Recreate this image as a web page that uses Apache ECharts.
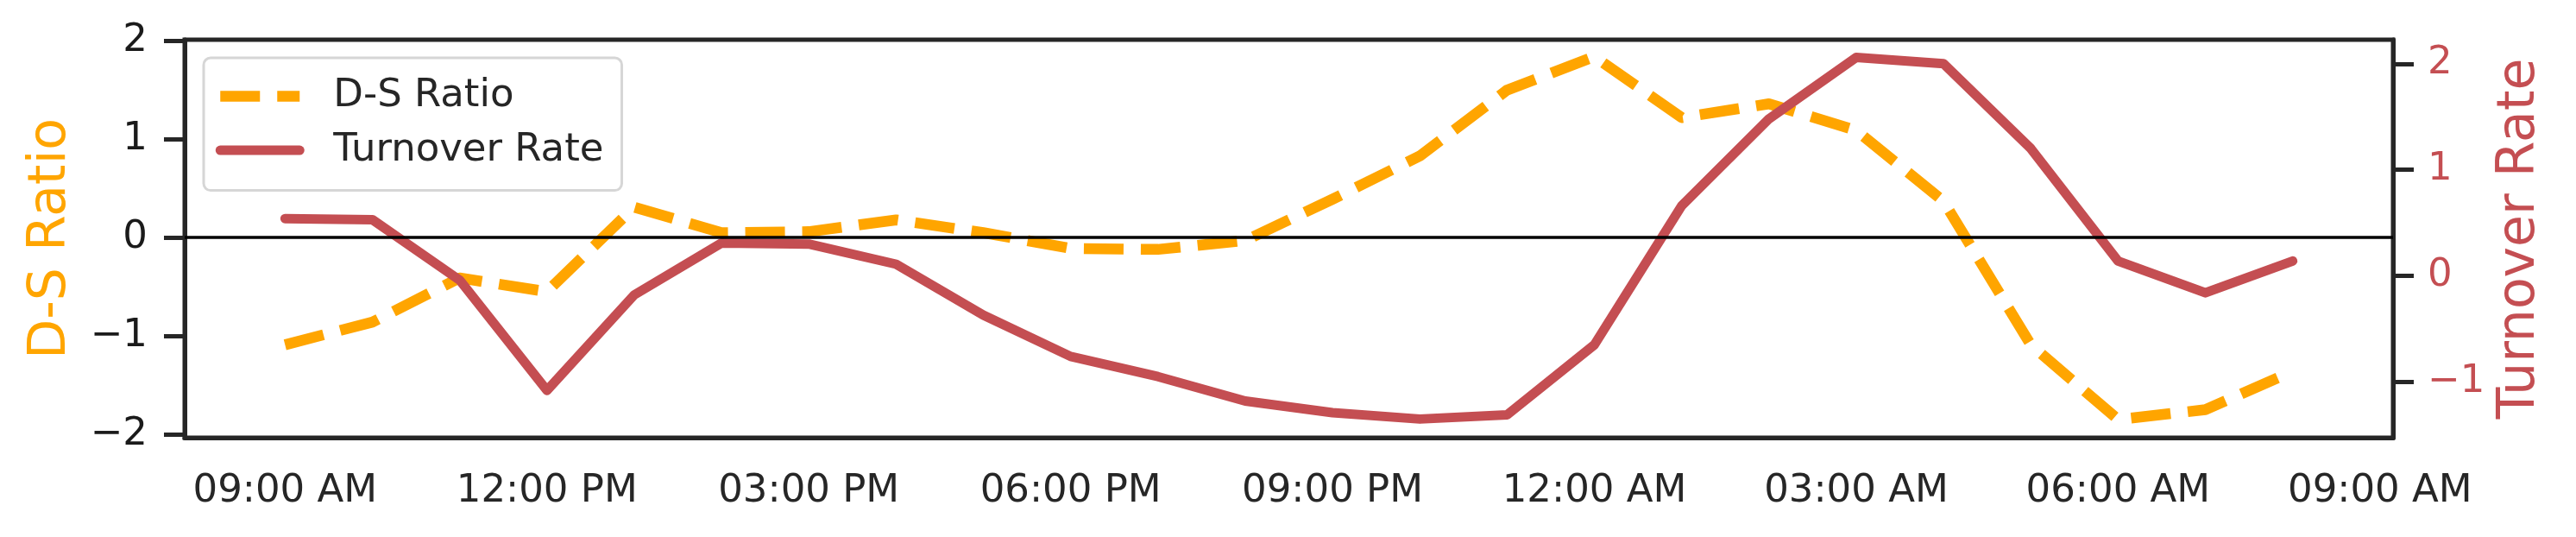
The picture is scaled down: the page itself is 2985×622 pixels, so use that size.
<!DOCTYPE html>
<html><head><meta charset="utf-8">
<script src="https://cdn.jsdelivr.net/npm/echarts@6/dist/echarts.min.js"></script>
<style>html,body{margin:0;padding:0;background:#fff}#c{width:2985px;height:622px}</style>
</head><body><div id="c"></div>
<script>
// hourly timestamps (09:00 AM day 1 -> 08:00 AM day 2)
const times = ["09:00 AM","10:00 AM","11:00 AM","12:00 PM","01:00 PM","02:00 PM","03:00 PM","04:00 PM",
  "05:00 PM","06:00 PM","07:00 PM","08:00 PM","09:00 PM","10:00 PM","11:00 PM","12:00 AM",
  "01:00 AM","02:00 AM","03:00 AM","04:00 AM","05:00 AM","06:00 AM","07:00 AM","08:00 AM"];
const dsRatio = [-1.09,-0.86,-0.41,-0.55,0.31,0.05,0.06,0.18,0.05,-0.11,-0.12,-0.03,
  0.39,0.83,1.50,1.84,1.22,1.36,1.09,0.37,-1.09,-1.85,-1.75,-1.36];
const turnoverRate = [0.54,0.53,-0.04,-1.08,-0.18,0.31,0.30,0.11,-0.37,-0.76,-0.95,-1.18,
  -1.29,-1.35,-1.31,-0.65,0.66,1.48,2.06,2.00,1.20,0.14,-0.16,0.14];
const xTickLabels = ["09:00 AM","12:00 PM","03:00 PM","06:00 PM","09:00 PM","12:00 AM","03:00 AM","06:00 AM","09:00 AM"];
const xTickHours = [0,3,6,9,12,15,18,21,24];
const leftTicks = [-2,-1,0,1,2];
const rightTicks = [-1,0,1,2];

const FONT = 'DejaVu Sans';
const DARK = '#262626';
const ORANGE = '#FFA500';
const RED = '#C44E52';
const fmt = v => (v < 0 ? '\u2212' + Math.abs(v) : String(v));

const chart = echarts.init(document.getElementById('c'), null, {renderer:'canvas'});
chart.setOption({
  animation: false,
  backgroundColor: '#fff',
  grid: {left:214, right:212, top:46, bottom:115, show:true, borderColor:DARK, borderWidth:5, backgroundColor:'transparent'},
  legend: {
    left:236, top:67, orient:'vertical',
    data:['D-S Ratio','Turnover Rate'],
    itemWidth:92, itemHeight:13, itemGap:17.6,
    padding:[22,21,24,13],
    backgroundColor:'#fff', borderColor:'#d6d6d6', borderWidth:3, borderRadius:8,
    itemStyle:{color:'rgba(0,0,0,0)', borderWidth:0, opacity:0},
    lineStyle:{width:'inherit', type:'inherit', cap:'inherit', color:'inherit'},
    textStyle:{fontFamily:FONT, fontSize:45, lineHeight:45, color:DARK, padding:[0,0,0,34]}
  },
  xAxis: {
    type:'value', min:-1.15, max:24.15,
    axisLine:{show:true, onZero:false, lineStyle:{color:DARK, width:5}},
    axisTick:{show:false}, splitLine:{show:false},
    axisLabel:{customValues:xTickHours, formatter:v => xTickLabels[xTickHours.indexOf(v)],
      margin:40, fontSize:45, fontFamily:FONT, color:DARK}
  },
  yAxis: [{
    type:'value', position:'left', min:-2.035, max:2.012,
    name:'D-S Ratio', nameLocation:'middle', nameRotate:90, nameGap:125,
    nameTextStyle:{color:ORANGE, fontSize:60, fontFamily:FONT},
    axisLine:{show:true, onZero:false, lineStyle:{color:DARK, width:5}},
    splitLine:{show:false},
    axisTick:{show:true, length:24, lineStyle:{color:DARK, width:5}, customValues:leftTicks},
    axisLabel:{customValues:leftTicks, formatter:fmt, margin:43, fontSize:45, fontFamily:FONT, color:'#1a1a1a'}
  }, {
    type:'value', position:'right', min:-1.526, max:2.226,
    name:'Turnover Rate', nameLocation:'middle', nameRotate:90, nameGap:117,
    nameTextStyle:{color:RED, fontSize:60, fontFamily:FONT},
    axisLine:{show:true, onZero:false, lineStyle:{color:DARK, width:5}},
    splitLine:{show:false},
    axisTick:{show:true, length:24, lineStyle:{color:DARK, width:5}, customValues:rightTicks},
    axisLabel:{customValues:rightTicks, formatter:fmt, margin:40, fontSize:45, fontFamily:FONT, color:RED}
  }],
  series: [{
    name:'zero', type:'line', data:[], yAxisIndex:0, z:1, silent:true,
    markLine:{silent:true, symbol:['none','none'], label:{show:false},
      lineStyle:{color:'#000', width:3.5, type:'solid'}, data:[{yAxis:0}], animation:false}
  }, {
    name:'D-S Ratio', type:'line', yAxisIndex:0, z:2, symbol:'none', showSymbol:false,
    color:ORANGE,
    lineStyle:{color:ORANGE, width:12.5, type:[46,20], cap:'butt', join:'round'},
    data: dsRatio.map((v,i) => [i, v])
  }, {
    name:'Turnover Rate', type:'line', yAxisIndex:1, z:3, symbol:'none', showSymbol:false,
    color:RED,
    lineStyle:{color:RED, width:11, type:'solid', cap:'round', join:'round'},
    data: turnoverRate.map((v,i) => [i, v])
  }]
});
</script></body></html>
